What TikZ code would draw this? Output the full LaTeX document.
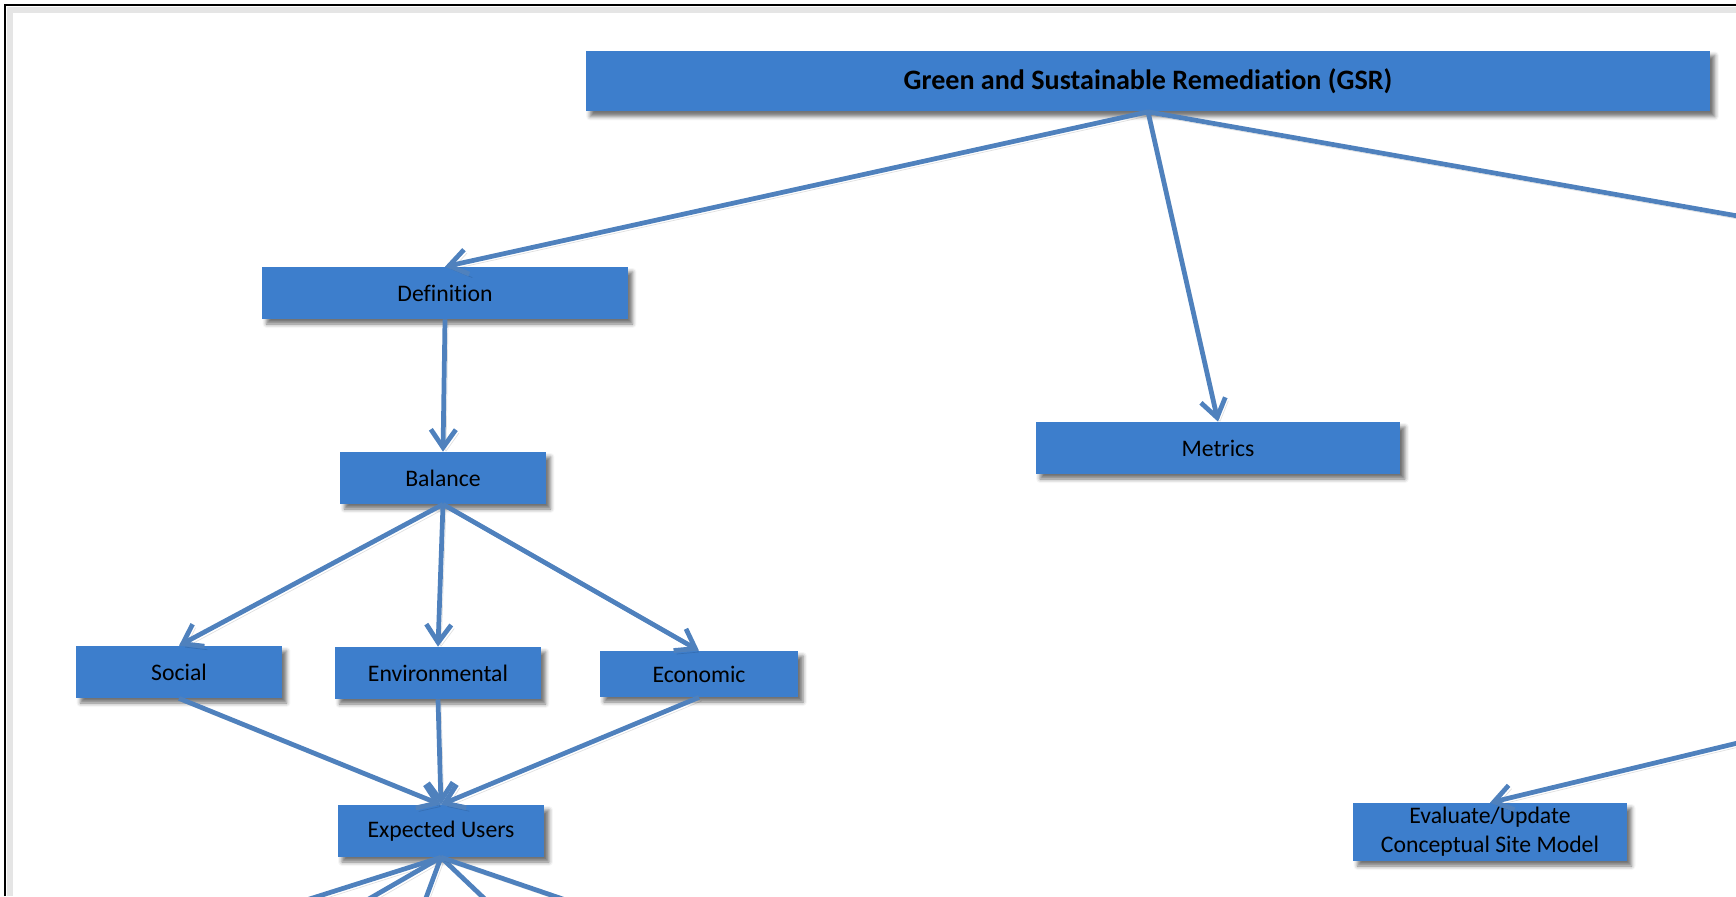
\documentclass[tikz,border=0pt]{standalone}
\usepackage{fontspec}
\setmainfont{Carlito}[Ligatures={CommonOff,ContextualOff}]
\usepackage{tikz}
\usetikzlibrary{arrows.meta}
\usetikzlibrary{shadows}
\usetikzlibrary{shadows.blur}
\usetikzlibrary{positioning}

\definecolor{boxblue}{HTML}{3D7ECC}
\definecolor{lineblue}{HTML}{4F81BD}

\tikzset{
  box/.style={fill=boxblue, text=black, inner sep=0pt, minimum height=1.04cm,
    align=center, font=\fontsize{13.5}{16.5}\selectfont,
    blur shadow={shadow xshift=0.09cm, shadow yshift=-0.1cm, shadow blur radius=0.08cm,
      shadow opacity=55}},
  link/.style={draw=lineblue, line width=2.7pt, ->,
    preaction={draw=black, opacity=0.12, transform canvas={shift={(0.06cm,-0.07cm)}}}},
}

\begin{document}
\begin{tikzpicture}[x=0.02cm, y=-0.02cm, >={Straight Barb[length=3.6mm, width=5mm]}]
  \path[use as bounding box] (0, 0) rectangle (1736, 896);

  % frame
  \draw[gray!20, line width=3pt] (10, 896) -- (10, 10) -- (1736, 10);
  \draw[line width=1.6pt] (5, 896) -- (5, 5) -- (1736, 5);

%%%%%%%%%%%% Boxes
  \node[box, minimum width=22.5cm, minimum height=1.22cm,
        font=\fontsize{16}{19}\selectfont\bfseries] (gsr) at (1148, 81)
        {Green and Sustainable Remediation (GSR)};
  \node[box, minimum width=7.32cm] (definition) at (445, 293) {Definition};
  \node[box, minimum width=7.3cm] (metrics) at (1218, 448) {Metrics};
  \node[box, minimum width=4.12cm] (balance) at (443, 478) {Balance};

  \node[box, minimum width=4.12cm] (social) at (179, 672) {Social};
  \node[box, minimum width=4.12cm] (environmental) at (438, 673) {Environmental};
  \node[box, minimum width=3.98cm, minimum height=0.92cm] (economic) at (699, 674) {Economic};

  \node[box, minimum width=4.14cm] (users) at (441, 831) {Expected Users};
  \node[box, minimum width=5.48cm, minimum height=1.16cm] (csm) at (1490, 832)
        {Evaluate/Update\\Conceptual Site Model};

  % ends outside the page
  \coordinate (gsrright) at (1800, 227);
  \coordinate (csmright) at (1800, 728);
  \coordinate (usera) at (117, 960);
  \coordinate (userb) at (263, 960);
  \coordinate (userc) at (403, 960);
  \coordinate (userd) at (549, 960);
  \coordinate (usere) at (741, 960);

%%%%%%%%%%%% Links
  \draw[link] (gsr.south) -- (definition.north);
  \draw[link] (gsr.south) -- (metrics.north);
  \draw[link] (gsr.south) -- (gsrright);
  \draw[link] (csmright) -- (csm.north);

  \draw[link] (definition.south) -- (balance.north);
  \foreach \n in {social, environmental, economic} {
    \draw[link] (balance.south) -- (\n.north);
    \draw[link] (\n.south) -- (users.north);
  }
  \foreach \n in {usera, userb, userc, userd, usere} {
    \draw[link] (users.south) -- (\n);
  }
\end{tikzpicture}
\end{document}
